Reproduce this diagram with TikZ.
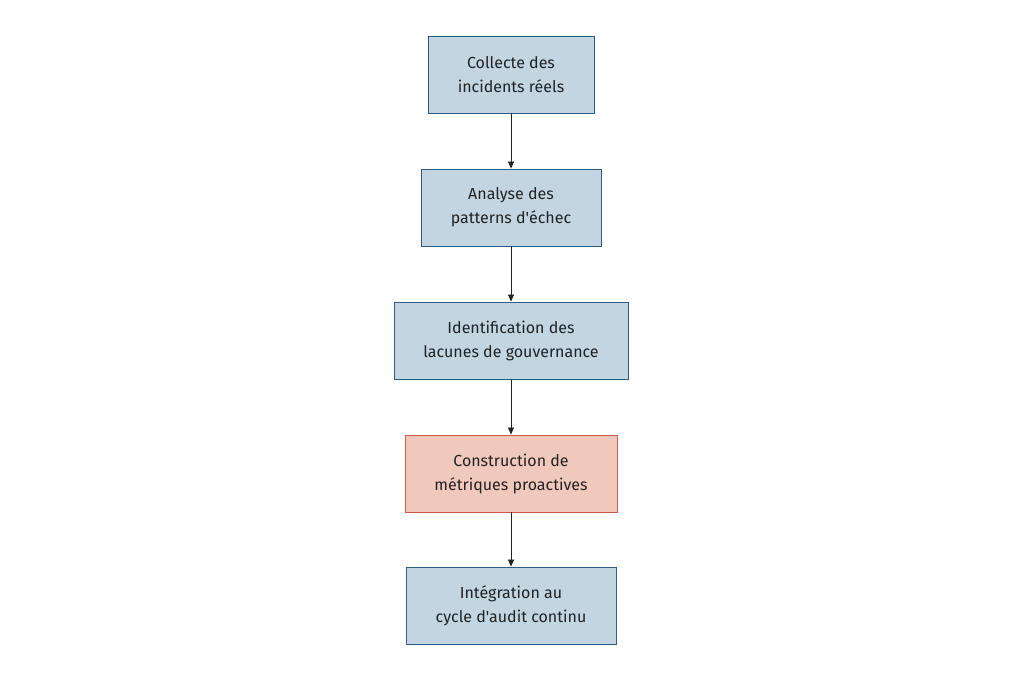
\documentclass[tikz,border=0pt]{standalone}
\usepackage{fontspec}
\newfontfamily\fira{Fira Sans}
\usetikzlibrary{arrows.meta}
\definecolor{bfill}{HTML}{C3D5E0}
\definecolor{bdraw}{HTML}{2E5C88}
\definecolor{rfill}{HTML}{F1C9BC}
\definecolor{rdraw}{HTML}{CC5A45}
\definecolor{txt}{HTML}{222222}
\begin{document}
\begin{tikzpicture}[x=1pt,y=-1pt,
  box/.style={draw=bdraw,fill=bfill,line width=0.9pt,minimum height=77pt,inner sep=0pt,align=center,
    text=txt,font=\fira\fontsize{16}{24}\selectfont},
  hbox/.style={box,draw=rdraw,fill=rfill},
  conn/.style={draw=txt,line width=0.7pt,-{Triangle[length=7pt,width=6pt]}}]
\useasboundingbox (0,0) rectangle (1023,682);
\node[box,minimum width=166pt] (a) at (511,74.5) {Collecte des\\incidents réels};
\node[box,minimum width=180pt] (b) at (511,207.5) {Analyse des\\patterns d'échec};
\node[box,minimum width=234pt] (c) at (511,340.5) {Identification des\\lacunes de gouvernance};
\node[hbox,minimum width=212pt] (d) at (511,473.5) {Construction de\\métriques proactives};
\node[box,minimum width=210pt] (e) at (511,605.5) {Intégration au\\cycle d'audit continu};
\draw[conn] (a) -- (b);
\draw[conn] (b) -- (c);
\draw[conn] (c) -- (d);
\draw[conn] (d) -- (e);
\end{tikzpicture}
\end{document}
